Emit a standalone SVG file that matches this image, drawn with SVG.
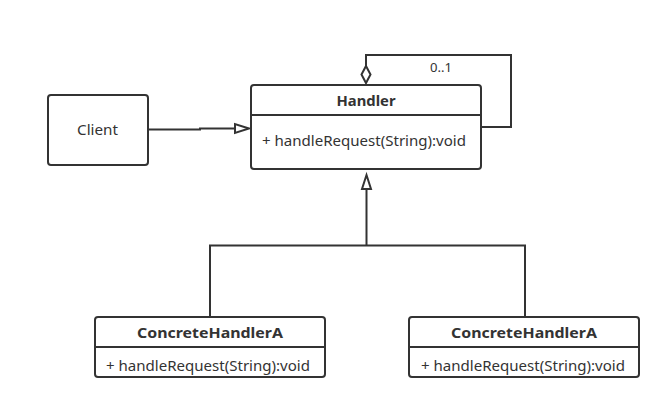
<svg xmlns="http://www.w3.org/2000/svg" width="672" height="409" viewBox="0 0 672 409">
<style>
.box{fill:#fff;stroke:#333;stroke-width:2}
.div{stroke:#333;stroke-width:2;fill:none}
.ln{stroke:#333;stroke-width:2;fill:none}
.head{fill:#fff;stroke:#333;stroke-width:2;stroke-linejoin:miter}
.t{font-family:"Noto Sans","Open Sans","DejaVu Sans",sans-serif;font-size:14px;fill:#333}
.b{font-weight:bold;text-anchor:middle;font-size:15px}
.s{font-size:12px}
</style>
<rect width="672" height="409" fill="#fff"/>
<g id="connectors">
  <polyline class="ln" points="148,129.5 200,129.5 200,128.5 236,128.5"/>
  <polygon class="head" points="249,128.5 235,124 235,133"/>
  <polyline class="ln" points="366,67 366,55 511,55 511,127 481,127"/>
  <polygon class="head" points="366,66 370.5,74.5 366,83 361.5,74.5"/>
  <polyline class="ln" points="210,317 210,245.5 525,245.5 525,317"/>
  <line class="ln" x1="366.5" y1="245.5" x2="366.5" y2="188"/>
  <polygon class="head" points="366.5,175 362,189 371,189"/>
  <text class="t s" x="430" y="72" textLength="22" lengthAdjust="spacingAndGlyphs">0..1</text>
</g>
<g id="client">
  <rect class="box" x="48" y="95" width="100" height="70" rx="3"/>
  <text class="t" x="77" y="135" font-size="15" textLength="41" lengthAdjust="spacingAndGlyphs">Client</text>
</g>
<g id="handler">
  <rect class="box" x="251" y="85" width="230" height="84" rx="3"/>
  <line class="div" x1="251" y1="115" x2="481" y2="115"/>
  <text class="t b" x="366" y="106" textLength="59" lengthAdjust="spacingAndGlyphs">Handler</text>
  <text class="t" x="262" y="146" textLength="204" lengthAdjust="spacingAndGlyphs">+ handleRequest(String):void</text>
</g>
<g id="concreteA1">
  <rect class="box" x="95" y="317" width="230" height="60" rx="3"/>
  <line class="div" x1="95" y1="347" x2="325" y2="347"/>
  <text class="t b" x="210" y="338" textLength="146" lengthAdjust="spacingAndGlyphs">ConcreteHandlerA</text>
  <text class="t" x="106" y="371" textLength="204" lengthAdjust="spacingAndGlyphs">+ handleRequest(String):void</text>
</g>
<g id="concreteA2">
  <rect class="box" x="409" y="317" width="230" height="60" rx="3"/>
  <line class="div" x1="409" y1="347" x2="639" y2="347"/>
  <text class="t b" x="524" y="338" textLength="146" lengthAdjust="spacingAndGlyphs">ConcreteHandlerA</text>
  <text class="t" x="421" y="371" textLength="204" lengthAdjust="spacingAndGlyphs">+ handleRequest(String):void</text>
</g>
</svg>
